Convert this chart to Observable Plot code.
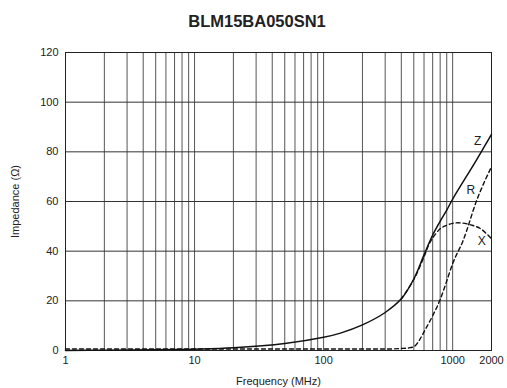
<!DOCTYPE html>
<html>
<head>
<meta charset="utf-8">
<script src="https://cdn.jsdelivr.net/npm/d3@7"></script>
<script src="https://cdn.jsdelivr.net/npm/@observablehq/plot@0.6"></script>
<style>
  html, body { margin: 0; padding: 0; background: #fff; }
  #title { width: 507px; height: 42px; line-height: 42px; text-align: center; padding-left: 7px; box-sizing: border-box;
           font-family: "Liberation Sans", Arial, sans-serif; font-weight: bold; font-size: 16.5px; color: #222; }
</style>
</head>
<body>
<div id="title">BLM15BA050SN1</div>
<div id="chart"></div>
<script>
// Frequencies (MHz) and impedance values (Ω)
const freqZ = [1, 2, 5, 10, 20, 50, 100, 135, 200, 300, 400, 500, 600, 700, 800, 900, 1000, 1500, 2000];
const valZ  = [0.05, 0.1, 0.28, 0.55, 1.1, 2.8, 5.3, 7, 10.3, 15.3, 20.8, 28.8, 38.5, 46.5, 52, 56.5, 61, 76, 87];

const freqR = [1, 100, 300, 400, 450, 500, 550, 600, 700, 800, 900, 1000, 1200, 1550, 2000];
const valR  = [0.6, 0.6, 0.6, 0.8, 1, 1.5, 4, 7.5, 14, 20.5, 28, 35, 44, 61, 74];

// X coincides with Z below ~500 MHz (hidden under the solid line)
const freqX = [400, 500, 600, 650, 700, 800, 860, 1000, 1150, 1400, 1650, 2000];
const valX  = [20.7, 28.6, 37.8, 42.3, 45.3, 49, 50, 51.2, 51.4, 50.5, 49, 45];

const seriesLabels = ["Z", "R", "X"];
const labelFreq = [1560, 1380, 1680];
const labelVal  = [84.5, 64.5, 44];

const xTicks = [1, 10, 100, 1000, 2000];
const xGrid = [1,2,3,4,5,6,7,8,9,10,20,30,40,50,60,70,80,90,100,200,300,400,500,600,700,800,900,1000,2000];
const yTicks = [0, 20, 40, 60, 80, 100, 120];

const zData = freqZ.map((f, i) => ({f, v: valZ[i]}));
const rData = freqR.map((f, i) => ({f, v: valR[i]}));
const xData = freqX.map((f, i) => ({f, v: valX[i]}));
const labels = seriesLabels.map((t, i) => ({t, f: labelFreq[i], v: labelVal[i]}));

const chart = Plot.plot({
  width: 507,
  height: 346,
  marginLeft: 65,
  marginRight: 16,
  marginTop: 10,
  marginBottom: 38,
  style: { fontFamily: "'Liberation Sans', Arial, sans-serif", fontSize: "11px", color: "#222", background: "#fff" },
  x: { type: "log", domain: [1, 2000], ticks: xTicks, tickFormat: d => String(d), tickSize: 0, tickPadding: 6,
       label: "Frequency (MHz)", labelAnchor: "center", labelArrow: "none", labelOffset: 34 },
  y: { domain: [0, 120], ticks: yTicks, tickSize: 0, tickPadding: 7,
       label: "Impedance (Ω)", labelAnchor: "center", labelArrow: "none", labelOffset: 54 },
  marks: [
    Plot.ruleX(xGrid, { stroke: "#555", strokeWidth: 1 }),
    Plot.ruleY(yTicks, { stroke: "#333", strokeWidth: 1 }),
    Plot.frame({ stroke: "#222" }),
    Plot.line(xData, { x: "f", y: "v", stroke: "#111", strokeWidth: 1.4, strokeDasharray: "4,3", curve: "catmull-rom" }),
    Plot.line(rData, { x: "f", y: "v", stroke: "#111", strokeWidth: 1.4, strokeDasharray: "4,3", curve: "monotone-x" }),
    Plot.line(zData, { x: "f", y: "v", stroke: "#111", strokeWidth: 1.5, curve: "catmull-rom" }),
    Plot.text(labels, { x: "f", y: "v", text: "t", fill: "#222", fontSize: 12, stroke: "#fff", strokeWidth: 3 })
  ]
});
document.getElementById("chart").appendChild(chart);
</script>
</body>
</html>
